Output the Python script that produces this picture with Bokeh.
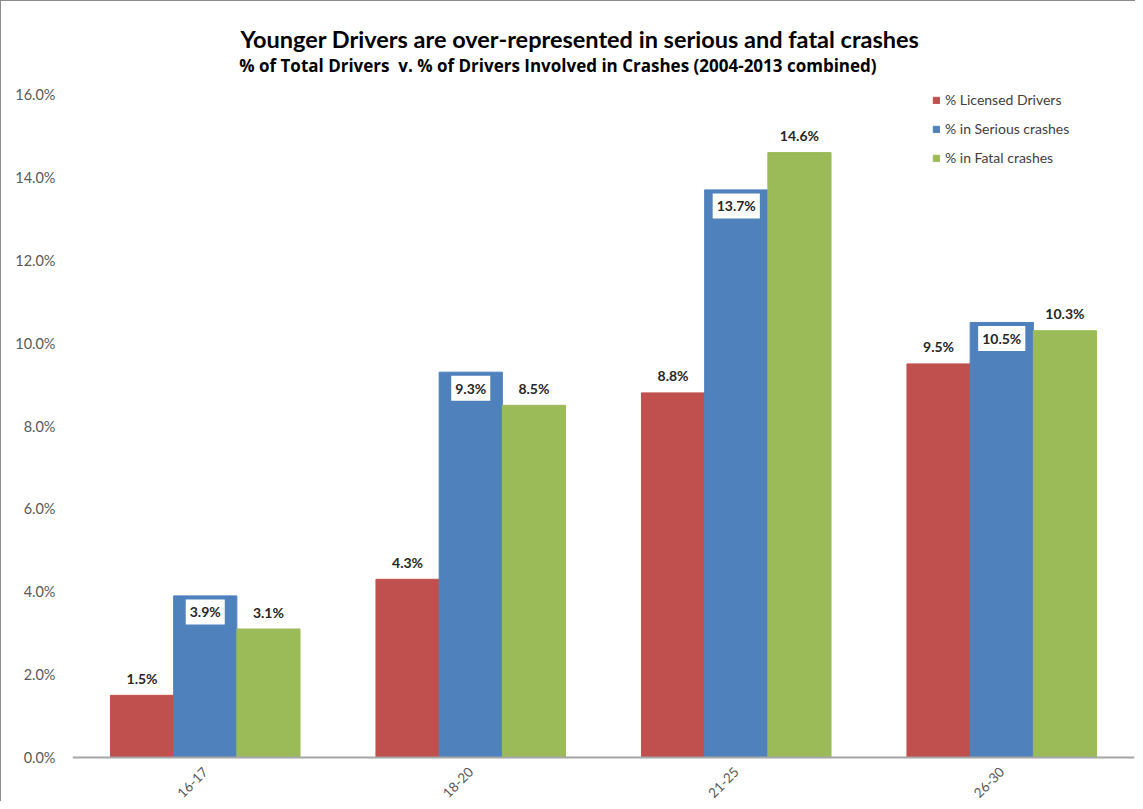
import math
from bokeh.plotting import figure
from bokeh.models import ColumnDataSource, FactorRange, Range1d, Legend, LegendItem, Label, PrintfTickFormatter, FixedTicker, Span
from bokeh.transform import dodge
from bokeh.core.properties import value
from bokeh.embed import file_html
from bokeh.resources import INLINE

# ---- data ----
age_groups = ["16-17", "18-20", "21-25", "26-30"]
licensed = [1.5, 4.3, 8.8, 9.5]
serious = [3.9, 9.3, 13.7, 10.5]
fatal = [3.1, 8.5, 14.6, 10.3]
series_names = ["% Licensed Drivers", "% in Serious crashes", "% in Fatal crashes"]
colors = ["#C0504D", "#4F81BD", "#9BBB59"]
y_ticks = [0, 2, 4, 6, 8, 10, 12, 14, 16]

title_text = "Younger Drivers are over-represented in serious and fatal crashes"
subtitle_text = "% of Total Drivers\u00a0 v. % of Drivers Involved in Crashes (2004-2013 combined)"

FONT = "Lato"

# ---- layout (pixels) ----
W, H = 1135, 801
FRAME_TOP = 10              # frame top in px
PX_ZERO, PX_MAX = 756, 94   # pixel rows of 0% and 16%
ppu = (PX_ZERO - PX_MAX) / 16.0
y_top = 16 + (PX_MAX - FRAME_TOP) / ppu
y_bot = -(H - PX_ZERO) / ppu

src = ColumnDataSource(dict(
    g=age_groups, lic=licensed, ser=serious, fat=fatal,
    lic_t=[f"{v:.1f}%" for v in licensed],
    ser_t=[f"{v:.1f}%" for v in serious],
    fat_t=[f"{v:.1f}%" for v in fatal],
    zero=[0] * len(age_groups),
))

p = figure(x_range=FactorRange(*age_groups, range_padding=0), y_range=Range1d(y_bot, y_top),
           width=W, height=H, output_backend="svg", toolbar_location=None,
           min_border_left=71, min_border_right=2, min_border_top=FRAME_TOP - 1, min_border_bottom=0)
p.styles = {"border-top": "1px solid #8c8c8c", "border-left": "1px solid #8c8c8c"}
p.outline_line_color = None
p.grid.grid_line_color = None
p.background_fill_color = "white"
p.xaxis.visible = False

# baseline
p.add_layout(Span(location=0, dimension="width", line_color="#A6A6A6", line_width=2))

bw = 0.238
keys = [("lic", "lic_t"), ("ser", "ser_t"), ("fat", "fat_t")]
offsets = [-bw, 0, bw]
rends = []
for (k, kt), off, c in zip(keys, offsets, colors):
    r = p.vbar(x=dodge("g", off, range=p.x_range), top=k, width=bw, source=src,
               fill_color=c, line_color=c)
    rends.append(r)

# value labels
for (k, kt), off in zip(keys, offsets):
    if k == "ser":
        p.text(x=dodge("g", off, range=p.x_range), y=k, text=kt, source=src,
               text_font=value(FONT), text_font_style="bold", text_font_size="14px",
               text_color="#262626", text_align="center", text_baseline="middle",
               y_offset=16, background_fill_color="white", padding=4)
    else:
        p.text(x=dodge("g", off, range=p.x_range), y=k, text=kt, source=src,
               text_font=value(FONT), text_font_style="bold", text_font_size="14px",
               text_color="#262626", text_align="center", text_baseline="middle",
               y_offset=-17)

# category labels (rotated, end of text at the category centre)
p.text(x="g", y="zero", text="g", source=src, angle=math.pi / 4,
       text_font=value(FONT), text_font_size="13.5px", text_color="#595959",
       text_align="right", text_baseline="middle", x_offset=0, y_offset=12)

# y axis
p.yaxis.ticker = FixedTicker(ticks=y_ticks)
p.yaxis.formatter = PrintfTickFormatter(format="%.1f%%")
p.yaxis.axis_line_color = None
p.yaxis.major_tick_line_color = None
p.yaxis.minor_tick_line_color = None
p.yaxis.major_label_text_font = FONT
p.yaxis.major_label_text_font_size = "14.5px"
p.yaxis.major_label_text_color = "#595959"
p.yaxis.major_label_standoff = 11

# titles (x in synthetic category coordinates, y in data units above the top tick)
title_x = (579 - 72.5) / 265.0
p.add_layout(Label(x=title_x, y=16 + (PX_MAX - 38) / ppu, text=title_text, text_align="center",
                   text_baseline="middle", text_font=FONT, text_font_style="bold",
                   text_font_size="23.5px", text_color="#000000"))
p.add_layout(Label(x=(557 - 72.5) / 265.0, y=16 + (PX_MAX - 65) / ppu, text=subtitle_text, text_align="center",
                   text_baseline="middle", text_font="Open Sans", text_font_style="bold",
                   text_font_size="17px", text_color="#000000"))

legend = Legend(items=[LegendItem(label=n, renderers=[r]) for n, r in zip(series_names, rends)],
                location=(860, H - 165), margin=0, padding=0, spacing=12,
                glyph_width=8, glyph_height=8, label_text_font=FONT, label_text_font_size="14px",
                label_text_color="#404040", border_line_color=None, background_fill_alpha=0,
                label_standoff=5, label_height=17)
p.add_layout(legend)

open("out.html", "w").write(file_html(p, INLINE))
